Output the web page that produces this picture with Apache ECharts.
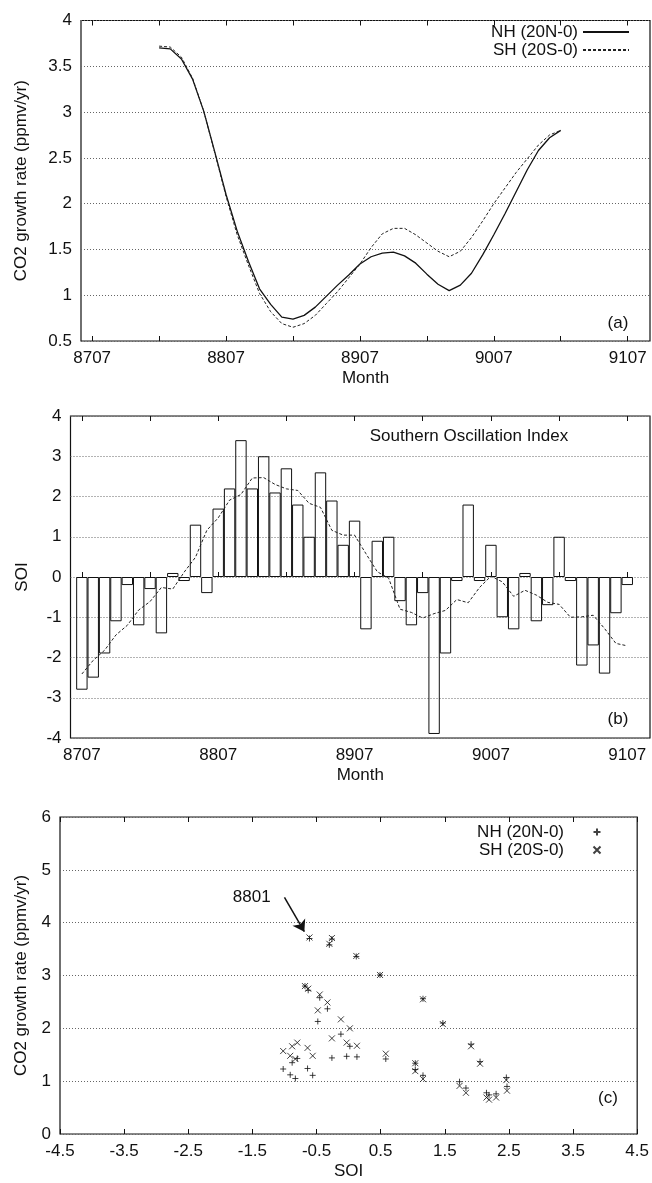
<!DOCTYPE html>
<html>
<head>
<meta charset="utf-8">
<title>CO2 growth rate and SOI</title>
<script src="https://cdn.jsdelivr.net/npm/echarts@6/dist/echarts.min.js"></script>
<style>
html, body { margin: 0; padding: 0; background: #fff; }
#main { width: 652px; height: 1183px; }
</style>
</head>
<body>
<div id="main"></div>
<script>
// month index: 0 = 8707, 48 = 9107
var monthLabels = ['8707', '8807', '8907', '9007', '9107'];
var labelMonths = [0, 12, 24, 36, 48];
var tickMonths = [0, 6, 12, 18, 24, 30, 36, 42, 48];
var soiTicks = [-4.5, -3.5, -2.5, -1.5, -0.5, 0.5, 1.5, 2.5, 3.5, 4.5];

// CO2 growth rate, monthly from 8801 (index 6) to 9101
var rateStart = 6;
var nhRate = [3.70, 3.69, 3.58, 3.36, 3.01, 2.56, 2.10, 1.70, 1.37, 1.07, 0.90, 0.76, 0.74, 0.78, 0.87, 0.99, 1.11, 1.22, 1.34,
	1.42, 1.46, 1.47, 1.43, 1.35, 1.23, 1.12, 1.05, 1.11, 1.24, 1.44, 1.66, 1.89, 2.13, 2.37, 2.58, 2.72, 2.80];
var shRate = [3.72, 3.71, 3.60, 3.37, 3.01, 2.55, 2.08, 1.66, 1.33, 1.02, 0.82, 0.69, 0.65, 0.69, 0.78, 0.91, 1.04, 1.19, 1.34,
	1.52, 1.67, 1.73, 1.73, 1.66, 1.57, 1.48, 1.42, 1.48, 1.63, 1.81, 2.00, 2.17, 2.34, 2.49, 2.64, 2.75, 2.80];

// Southern Oscillation Index, monthly 8707..9107
var soi = [-2.8, -2.5, -1.9, -1.1, -0.2, -1.2, -0.3, -1.4, 0.1, -0.1, 1.3, -0.4, 1.7, 2.2, 3.4, 2.2, 3.0, 2.1, 2.7, 1.8, 1.0, 2.6, 1.9, 0.8, 1.4,
	-1.3, 0.9, 1.0, -0.6, -1.2, -0.4, -3.9, -1.9, -0.1, 1.8, -0.1, 0.8, -1.0, -1.3, 0.1, -1.1, -0.7, 1.0, -0.1, -2.2, -1.7, -2.4, -0.9, -0.2];
// smoothed SOI (dashed line)
var soiMean = [-2.41, -2.07, -1.82, -1.44, -1.20, -0.82, -0.61, -0.26, -0.30, 0.12, 0.49, 1.16, 1.47, 1.91, 2.05, 2.46, 2.47, 2.30, 2.19, 2.15,
	1.83, 1.73, 1.16, 1.04, 1.04, 0.58, 0.13, -0.03, -0.80, -0.88, -1.02, -0.91, -0.83, -0.56, -0.64, -0.26, 0.02, -0.12, -0.48, -0.33,
	-0.45, -0.63, -0.68, -1.00, -0.99, -0.95, -1.28, -1.65, -1.71];

var FONT = '"Liberation Sans", Arial, Helvetica, sans-serif';
var INK = '#111';
var plusPath = 'path://M0,3L6,3M3,0L3,6';
var crossPath = 'path://M0,0L6,6M6,0L0,6';

function pairs(start, arr){
	var out = [];
	for (var i = 0; i < arr.length; i++) out.push([start + i, arr[i]]);
	return out;
}
function scatterPairs(arr){
	var out = [];
	for (var i = 0; i < arr.length; i++) out.push([soiMean[rateStart + i], arr[i]]);
	return out;
}
function text(size){
	return { color: INK, fontSize: size || 17, fontFamily: FONT };
}
function note(str, x, y){
	return { type: 'text', x: x, y: y, style: { text: str, textAlign: 'center', textVerticalAlign: 'middle', align: 'center', verticalAlign: 'middle', fill: INK, font: '17px ' + FONT } };
}

function monthAxis(grid, pos){
	var bottom = pos === 'bottom';
	return {
		type: 'value', gridIndex: grid, position: pos, min: -1, max: 50,
		axisLine: { show: false },
		axisTick: { show: true, inside: true, length: 5, customValues: tickMonths, lineStyle: { color: INK } },
		axisLabel: Object.assign({
			show: bottom, margin: 9, customValues: labelMonths,
			formatter: function(v){ return monthLabels[Math.round(v / 12)]; }
		}, text()),
		splitLine: { show: false },
		name: bottom ? 'Month' : '', nameLocation: 'middle', nameGap: 29, nameTextStyle: text()
	};
}
function soiAxis(grid, pos){
	var bottom = pos === 'bottom';
	return {
		type: 'value', gridIndex: grid, position: pos, min: -4.5, max: 4.5,
		axisLine: { show: false },
		axisTick: { show: true, inside: true, length: 5, customValues: soiTicks, lineStyle: { color: INK } },
		axisLabel: Object.assign({
			show: bottom, margin: 9, customValues: soiTicks,
			formatter: function(v){ return v.toFixed(1); }
		}, text()),
		splitLine: { show: false },
		name: bottom ? 'SOI' : '', nameLocation: 'middle', nameGap: 29, nameTextStyle: text()
	};
}
function valAxis(grid, min, max, step, name, gap){
	return {
		type: 'value', gridIndex: grid, min: min, max: max, interval: step,
		axisLine: { show: false }, axisTick: { show: false },
		axisLabel: Object.assign({ margin: 9 }, text()),
		splitLine: { show: true, lineStyle: { color: '#666', width: 1, type: [1, 2] } },
		name: name, nameLocation: 'middle', nameGap: gap, nameTextStyle: text()
	};
}

var gridBox = { show: true, borderColor: INK, borderWidth: 1.2, backgroundColor: 'transparent' };

var chart = echarts.init(document.getElementById('main'));
chart.setOption({
	animation: false,
	backgroundColor: '#fff',
	grid: [
		Object.assign({ left: 81, top: 20.5, right: 2, height: 320.5 }, gridBox),
		Object.assign({ left: 70.5, top: 416, right: 2, height: 322 }, gridBox),
		Object.assign({ left: 60, top: 817, right: 12, height: 317 }, gridBox)
	],
	xAxis: [
		monthAxis(0, 'bottom'), monthAxis(0, 'top'),
		monthAxis(1, 'bottom'), monthAxis(1, 'top'),
		soiAxis(2, 'bottom'), soiAxis(2, 'top')
	],
	yAxis: [
		valAxis(0, 0.5, 4, 0.5, 'CO2 growth rate (ppmv/yr)', 51),
		valAxis(1, -4, 4, 1, 'SOI', 40),
		valAxis(2, 0, 6, 1, 'CO2 growth rate (ppmv/yr)', 30)
	],
	legend: [{
		data: ['NH (20N-0)', 'SH (20S-0)'],
		orient: 'vertical', align: 'right', right: 22, top: 23.5, padding: 0,
		itemWidth: 46, itemHeight: 10, itemGap: 1, selectedMode: false,
		itemStyle: { color: 'rgba(0,0,0,0)', borderWidth: 0, opacity: 0 },
		textStyle: Object.assign({ lineHeight: 17 }, text())
	}, {
		data: ['NH (20N-0) ', 'SH (20S-0) '],
		orient: 'vertical', align: 'right', right: 49, top: 823.5, padding: 0,
		itemWidth: 56, itemHeight: 7, itemGap: 1, selectedMode: false,
		formatter: function(n){ return n.trim(); },
		textStyle: Object.assign({ lineHeight: 16 }, text())
	}],
	graphic: [
		note('(a)', 618, 323),
		note('(b)', 618, 719),
		note('(c)', 608, 1098),
		note('Southern Oscillation Index', 469, 436)
	],
	series: [
		{
			name: 'NH (20N-0)', type: 'line', xAxisIndex: 0, yAxisIndex: 0,
			data: pairs(rateStart, nhRate), symbol: 'none',
			itemStyle: { color: INK }, lineStyle: { color: INK, width: 1.3 }
		},
		{
			name: 'SH (20S-0)', type: 'line', xAxisIndex: 0, yAxisIndex: 0,
			data: pairs(rateStart, shRate), symbol: 'none',
			itemStyle: { color: '#222' }, lineStyle: { color: '#222', width: 1, type: [3, 2] }
		},
		{
			name: 'SOI', type: 'bar', xAxisIndex: 2, yAxisIndex: 1,
			data: pairs(0, soi), barWidth: 11.4,
			itemStyle: { color: 'rgba(0,0,0,0)', borderColor: INK, borderWidth: 1 }
		},
		{
			name: 'SOI mean', type: 'line', xAxisIndex: 2, yAxisIndex: 1,
			data: pairs(0, soiMean), symbol: 'none', z: 3,
			lineStyle: { color: '#222', width: 1, type: [3, 2] }
		},
		{
			name: 'NH (20N-0) ', type: 'scatter', xAxisIndex: 4, yAxisIndex: 2,
			data: scatterPairs(nhRate), symbol: plusPath, symbolSize: 6, symbolKeepAspect: true,
			itemStyle: { color: 'none', borderColor: INK, borderWidth: 1 },
			markPoint: {
				symbol: 'rect', symbolSize: 1, itemStyle: { color: 'rgba(0,0,0,0)' },
				label: Object.assign({ show: true, position: 'inside', formatter: '8801' }, text()),
				data: [{ coord: [-1.51, 4.48] }]
			},
			markLine: {
				silent: true, symbol: ['none', 'arrow'], symbolSize: 11,
				label: { show: false },
				itemStyle: { color: INK },
				lineStyle: { color: INK, width: 1.5, type: 'solid' },
				data: [[{ coord: [-1.0, 4.48] }, { coord: [-0.69, 3.83] }]]
			}
		},
		{
			name: 'SH (20S-0) ', type: 'scatter', xAxisIndex: 4, yAxisIndex: 2,
			data: scatterPairs(shRate), symbol: crossPath, symbolSize: 6, symbolKeepAspect: true,
			itemStyle: { color: 'none', borderColor: INK, borderWidth: 1 }
		}
	]
});
</script>
</body>
</html>
